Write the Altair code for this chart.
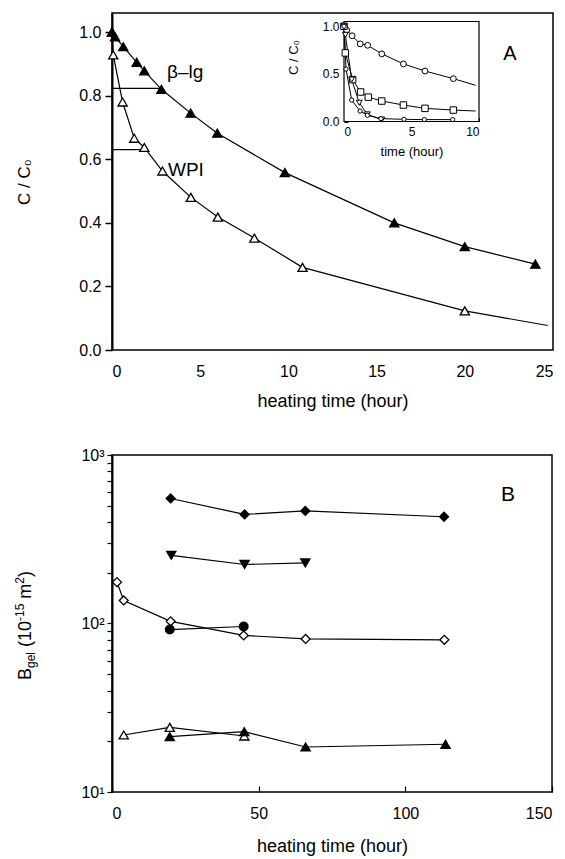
import altair as alt
import pandas as pd

FONT = "Liberation Sans"

# ---------------- Panel A : main curves ----------------
blg_t = [0.0, 0.17, 0.64, 1.4, 1.83, 2.8, 4.46, 5.97, 9.8, 16.0, 20.0, 24.0]
blg_v = [1.0, 0.985, 0.954, 0.905, 0.878, 0.82, 0.745, 0.682, 0.558, 0.40, 0.325, 0.27]
wpi_t = [0.0, 0.07, 0.6, 1.26, 1.83, 2.86, 4.47, 6.0, 8.07, 10.8, 20.0]
wpi_v = [1.0, 0.928, 0.78, 0.666, 0.637, 0.563, 0.48, 0.418, 0.352, 0.26, 0.123]
wpi_tail_t = [24.7]
wpi_tail_v = [0.077]
# horizontal guide lines: level, start and end time
guide_v = [0.823, 0.63]
guide_t0 = [0.0, 0.0]
guide_t = [2.8, 1.83]

# ---------------- Panel A : inset ----------------
ins_circ_t = [0.0, 0.2, 0.6, 1.2, 1.75, 2.8, 4.4, 6.0, 8.1]
ins_circ_v = [1.0, 0.96, 0.90, 0.815, 0.80, 0.71, 0.605, 0.53, 0.45]
ins_circ_tail_t = [9.75]
ins_circ_tail_v = [0.38]
ins_sq_t = [0.0, 0.1, 0.64, 1.23, 1.8, 2.8, 4.4, 6.0, 8.1]
ins_sq_v = [1.0, 0.72, 0.44, 0.31, 0.256, 0.215, 0.173, 0.138, 0.12]
ins_sq_tail_t = [9.75]
ins_sq_tail_v = [0.11]
ins_tri_t = [0.0, 0.1, 0.57, 1.13, 1.73, 2.8]
ins_tri_v = [1.0, 0.91, 0.44, 0.197, 0.075, 0.02]
ins_dot_t = [0.0, 0.15, 0.57, 1.19, 1.73, 2.74, 4.44, 5.95, 8.05]
ins_dot_v = [1.0, 0.55, 0.225, 0.11, 0.065, 0.03, 0.023, 0.02, 0.02]

# ---------------- Panel B ----------------
b_fdia_t = [20.0, 45.2, 65.9, 113.2]
b_fdia_v = [552, 444, 466, 430]
b_ftrd_t = [20.2, 45.2, 65.9]
b_ftrd_v = [254, 224, 229]
b_odia_t = [1.7, 4.0, 20.0, 44.9, 66.0, 113.3]
b_odia_v = [176, 137, 103, 85, 81, 80]
b_fcir_t = [19.7, 44.9]
b_fcir_v = [92, 96]
b_otri_t = [4.0, 19.7, 45.1]
b_otri_v = [21.8, 24.2, 21.5]
b_ftri_t = [19.7, 45.1, 66.0, 113.7]
b_ftri_v = [21.3, 22.8, 18.5, 19.2]

a_ticks_x = [0, 5, 10, 15, 20, 25]
a_ticks_y = [0.0, 0.2, 0.4, 0.6, 0.8, 1.0]
ins_ticks_x = [0, 5, 10]
ins_ticks_y = [0.0, 0.5, 1.0]
b_ticks_x = [0, 50, 100, 150]
b_ticks_y = [10, 20, 30, 40, 50, 60, 70, 80, 90, 100, 200, 300, 400, 500,
             600, 700, 800, 900, 1000]


def df(ts, vs):
    return pd.DataFrame({"t": ts, "v": vs, "i": list(range(len(ts)))})


one = pd.DataFrame({"k": [0]})

# ======================= PANEL A =======================
W_A, H_A = 441, 337
xA = alt.Scale(domain=[0, 25], nice=False, zero=False)
yA = alt.Scale(domain=[0, 1.06], nice=False, zero=False)

xA_axis = alt.Axis(title="heating time (hour)", values=a_ticks_x, format="d",
                   tickSize=0, ticks=False, domain=False, labelPadding=13,
                   titlePadding=13, grid=False, labelFontSize=16, titleFontSize=18)
yA_axis = alt.Axis(title="C / C₀", values=a_ticks_y, format=".1f",
                   tickSize=7, tickWidth=1.5, labelPadding=4, titlePadding=45,
                   domain=True, domainWidth=2, grid=False, labelFontSize=16,
                   titleFontSize=17)


def encA(axes=False):
    return dict(x=alt.X("t:Q", scale=xA, axis=xA_axis if axes else None),
                y=alt.Y("v:Q", scale=yA, axis=yA_axis if axes else None))


blg_line = alt.Chart(df(blg_t, blg_v)).mark_line(color="black", strokeWidth=1.2).encode(
    order="i:Q", **encA(True))
wpi_line = alt.Chart(df(wpi_t + wpi_tail_t, wpi_v + wpi_tail_v)).mark_line(
    color="black", strokeWidth=1.2).encode(order="i:Q", **encA())

guides = pd.DataFrame({"t0": guide_t0, "t": guide_t, "v": guide_v})
a_guide = alt.Chart(guides).mark_rule(color="black", strokeWidth=1.3).encode(
    x=alt.X("t0:Q", scale=xA, axis=None), x2="t:Q",
    y=alt.Y("v:Q", scale=yA, axis=None))

wpi_pt = alt.Chart(df(wpi_t, wpi_v)).mark_point(
    filled=True, shape="triangle-up", size=85, fill="white", stroke="black",
    strokeWidth=1.3, opacity=1).encode(**encA())
blg_pt = alt.Chart(df(blg_t, blg_v)).mark_point(
    filled=True, shape="triangle-up", size=85, fill="black", stroke="black",
    strokeWidth=1.3, opacity=1).encode(**encA())

lbl_blg = alt.Chart(one).mark_text(text="β–lg", font=FONT, fontSize=19,
                                    align="left", baseline="alphabetic").encode(
    x=alt.value(55), y=alt.value(65))
lbl_wpi = alt.Chart(one).mark_text(text="WPI", font=FONT, fontSize=19,
                                   align="left", baseline="alphabetic").encode(
    x=alt.value(56), y=alt.value(163))
lbl_A = alt.Chart(one).mark_text(text="A", font=FONT, fontSize=20,
                                 align="center", baseline="middle").encode(
    x=alt.value(398), y=alt.value(41))

# ---- inset (own scales, placed via pixel ranges inside panel A) ----
ins_x0, ins_x1 = 232, 367
ins_y0, ins_y1 = 108.5, 8.5
xI = alt.Scale(domain=[0, 10], range=[ins_x0, ins_x1], nice=False, zero=False)
yI = alt.Scale(domain=[0, 1.05], range=[ins_y0, ins_y1], nice=False, zero=False)
xI_axis = alt.Axis(title="time (hour)", values=ins_ticks_x, format="d",
                   orient="bottom", offset=ins_y0 - H_A, tickSize=0, ticks=False,
                   labelPadding=5, labelFontSize=12, titleFontSize=13,
                   titlePadding=8, domain=False, grid=False)
yI_axis = alt.Axis(title="C / C₀", values=ins_ticks_y, format=".1f",
                   orient="left", offset=-ins_x0, tickSize=0, ticks=False,
                   labelPadding=5, labelFontSize=12, titleFontSize=13,
                   titleX=-44, titleY=44, domain=False, grid=False)
# inward ticks of the inset
xI_tick_axis = alt.Axis(orient="bottom", offset=ins_y0 - H_A - 4, tickSize=4,
                        labels=False, domain=False, title=None,
                        values=ins_ticks_x, grid=False, tickWidth=1)
yI_tick_axis = alt.Axis(orient="left", offset=-ins_x0 - 4, tickSize=4,
                        labels=False, domain=False, title=None,
                        values=ins_ticks_y, grid=False, tickWidth=1)


def encI(axes=False, xa=None, ya=None):
    return dict(x=alt.X("t:Q", scale=xI, axis=xI_axis if axes else xa),
                y=alt.Y("v:Q", scale=yI, axis=yI_axis if axes else ya))


ins_box = pd.DataFrame({"t": [0], "t1": [10], "v": [0], "v1": [1.05]})
ins_frame = alt.Chart(ins_box).mark_rect(fill="white", stroke="black",
                                         strokeWidth=1.2).encode(
    x2="t1:Q", y2="v1:Q", **encI(True))

ins_layers = [ins_frame]
for k, (ts, vs, tt, tv) in enumerate(
        [(ins_circ_t, ins_circ_v, ins_circ_tail_t, ins_circ_tail_v),
         (ins_sq_t, ins_sq_v, ins_sq_tail_t, ins_sq_tail_v),
         (ins_tri_t, ins_tri_v, [], []),
         (ins_dot_t, ins_dot_v, [], [])]):
    e = encI(False, xI_tick_axis, yI_tick_axis) if k == 0 else encI()
    ins_layers.append(alt.Chart(df(ts + tt, vs + tv)).mark_line(
        color="black", strokeWidth=1).encode(order="i:Q", **e))
for ts, vs, shape, size in [(ins_circ_t, ins_circ_v, "circle", 34),
                            (ins_sq_t, ins_sq_v, "square", 42),
                            (ins_tri_t, ins_tri_v, "triangle-down", 34),
                            (ins_dot_t, ins_dot_v, "circle", 18)]:
    ins_layers.append(alt.Chart(df(ts, vs)).mark_point(
        filled=True, shape=shape, size=size, fill="white", stroke="black",
        strokeWidth=1, opacity=1).encode(**encI()))

panel_A = alt.layer(blg_line, wpi_line, a_guide, wpi_pt, blg_pt,
                    lbl_blg, lbl_wpi, lbl_A, *ins_layers).resolve_scale(
    x="independent", y="independent").properties(width=W_A, height=H_A)

# ======================= PANEL B =======================
W_B, H_B = 440, 337
xB = alt.Scale(domain=[0, 150], nice=False, zero=False)
yB = alt.Scale(type="log", domain=[10, 1000], nice=False)

xB_axis = alt.Axis(title="heating time (hour)", values=b_ticks_x, format="d",
                   tickSize=0, ticks=False, domain=False, labelPadding=13,
                   titlePadding=16, grid=False, labelFontSize=16, titleFontSize=18)
yB_axis = alt.Axis(title=None, values=b_ticks_y,
                   labelExpr="datum.value == 10 ? '10¹' : datum.value == 100 ? '10²' : datum.value == 1000 ? '10³' : ''",
                   labelOverlap=False, tickSize=5, tickWidth=1.2, labelPadding=3,
                   domain=True, domainWidth=2, grid=False, labelFontSize=16)
xB_tick_axis = alt.Axis(orient="bottom", offset=-6, tickSize=6, tickWidth=1.2,
                        labels=False, domain=False, title=None,
                        values=b_ticks_x, grid=False)


def encB(xaxis=None, yaxis=None):
    return dict(x=alt.X("t:Q", scale=xB, axis=xaxis),
                y=alt.Y("v:Q", scale=yB, axis=yaxis))


b_series = [(b_fdia_t, b_fdia_v, "diamond", "black", 80),
            (b_ftrd_t, b_ftrd_v, "triangle-down", "black", 85),
            (b_odia_t, b_odia_v, "diamond", "white", 80),
            (b_fcir_t, b_fcir_v, "circle", "black", 75),
            (b_otri_t, b_otri_v, "triangle-up", "white", 85),
            (b_ftri_t, b_ftri_v, "triangle-up", "black", 85)]

b_layers = []
for k, (ts, vs, shape, fill, size) in enumerate(b_series):
    if k == 0:
        e = encB(xB_axis, yB_axis)
    elif k == 1:
        e = encB(xB_tick_axis, None)
    else:
        e = encB()
    b_layers.append(alt.Chart(df(ts, vs)).mark_line(
        color="black", strokeWidth=1.2).encode(order="i:Q", **e))
for ts, vs, shape, fill, size in b_series:
    b_layers.append(alt.Chart(df(ts, vs)).mark_point(
        filled=True, shape=shape, size=size, fill=fill, stroke="black",
        strokeWidth=1.3, opacity=1).encode(**encB()))

lbl_B = alt.Chart(one).mark_text(text="B", font=FONT, fontSize=21,
                                 align="center", baseline="middle").encode(
    x=alt.value(396), y=alt.value(40))

# rotated y title built from pieces (sub/superscripts); spaces become advances
ADV = {"B": .667, "g": .556, "e": .556, "l": .222, " ": .278, "(": .333,
       ")": .333, "1": .556, "0": .556, "-": .333, "5": .556, "m": .833, "2": .556}
pieces = [("B", 18, 0), ("gel", 12, 4), (" (10", 18, 0), ("-15", 12, -7),
          (" m", 18, 0), ("2", 12, -7), (")", 18, 0)]
title_layers = []
cum = 0.0
for txt, fs, dy in pieces:
    lead = len(txt) - len(txt.lstrip(" "))
    cum += lead * ADV[" "] * fs
    body = txt.lstrip(" ")
    title_layers.append(alt.Chart(one).mark_text(
        text=body, font=FONT, fontSize=fs, angle=270, align="left",
        baseline="alphabetic", dx=cum, dy=dy).encode(
        x=alt.value(-81), y=alt.value(225)))
    cum += sum(ADV[c] for c in body) * fs

panel_B = alt.layer(*b_layers, lbl_B, *title_layers).resolve_scale(
    x="independent", y="independent").properties(width=W_B, height=H_B)

chart = alt.vconcat(panel_A, panel_B, spacing=35).properties(
    padding={"left": 5, "top": 4, "right": 0, "bottom": 0},
    background="white"
).configure_view(stroke="black", strokeWidth=1.5).configure_axis(
    labelFont=FONT, titleFont=FONT,
    labelColor="black", titleColor="black", titleFontWeight="normal",
    tickColor="black", domainColor="black"
)

chart.save("out.html", embed_options={"renderer": "svg", "actions": False})
